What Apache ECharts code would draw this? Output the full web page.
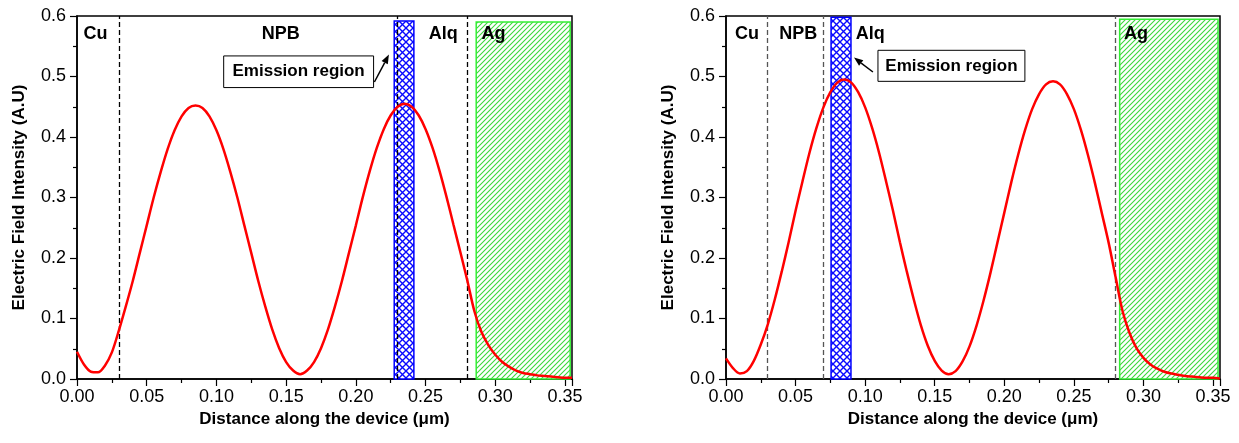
<!DOCTYPE html>
<html>
<head>
<meta charset="utf-8">
<script src="https://cdn.jsdelivr.net/npm/echarts@6/dist/echarts.min.js"></script>
<style>
    html, body {margin: 0; padding: 0; background: #fff;}
    #chart {width: 1239px; height: 443px;}
</style>
</head>
<body>
<div id="chart"></div>
<script>
// distance along the device (um)
const xs = [0.000, 0.005, 0.010, 0.015, 0.020, 0.025, 0.030, 0.035, 0.040, 0.045,
    0.050, 0.055, 0.060, 0.065, 0.070, 0.075, 0.080, 0.085, 0.090, 0.095,
    0.100, 0.105, 0.110, 0.115, 0.120, 0.125, 0.130, 0.135, 0.140, 0.145,
    0.150, 0.155, 0.160, 0.165, 0.170, 0.175, 0.180, 0.185, 0.190, 0.195,
    0.200, 0.205, 0.210, 0.215, 0.220, 0.225, 0.230, 0.235, 0.240, 0.245,
    0.250, 0.255, 0.260, 0.265, 0.270, 0.275, 0.280, 0.285, 0.290, 0.295,
    0.300, 0.305, 0.310, 0.315, 0.320, 0.325, 0.330, 0.335, 0.340, 0.345,
    0.350, 0.355];

// electric field intensity, left device
const leftField = [0.045, 0.024, 0.012, 0.011, 0.022, 0.044, 0.080, 0.120, 0.162, 0.208,
    0.254, 0.300, 0.342, 0.380, 0.411, 0.434, 0.448, 0.452, 0.448, 0.434,
    0.411, 0.380, 0.342, 0.300, 0.254, 0.208, 0.162, 0.120, 0.082, 0.051,
    0.028, 0.014, 0.008, 0.014, 0.028, 0.051, 0.082, 0.120, 0.162, 0.208,
    0.254, 0.301, 0.344, 0.382, 0.413, 0.436, 0.450, 0.455, 0.450, 0.436,
    0.413, 0.382, 0.344, 0.301, 0.255, 0.209, 0.162, 0.112, 0.078, 0.056,
    0.040, 0.028, 0.020, 0.014, 0.010, 0.008, 0.006, 0.005, 0.004, 0.003,
    0.002, 0.002];

// electric field intensity, right device
const rightField = [0.034, 0.018, 0.009, 0.013, 0.030, 0.057, 0.090, 0.131, 0.177, 0.226,
    0.278, 0.327, 0.374, 0.415, 0.449, 0.474, 0.490, 0.495, 0.490, 0.474,
    0.449, 0.415, 0.374, 0.327, 0.278, 0.226, 0.177, 0.131, 0.089, 0.055,
    0.030, 0.014, 0.008, 0.013, 0.029, 0.054, 0.088, 0.129, 0.175, 0.225,
    0.275, 0.325, 0.371, 0.412, 0.446, 0.471, 0.487, 0.492, 0.487, 0.471,
    0.446, 0.412, 0.371, 0.325, 0.275, 0.225, 0.168, 0.112, 0.076, 0.051,
    0.035, 0.024, 0.017, 0.012, 0.009, 0.007, 0.005, 0.004, 0.003, 0.002,
    0.002, 0.001];

// layer boundaries (dashed lines)
const leftBounds = [0.0277, 0.2261, 0.2846];
const rightBounds = [0.0275, 0.0748, 0.2817];

// emission region and Ag layer: [from, to, top]
const leftEmission = [0.2275, 0.2416, 0.5917];
const leftAg = [0.2863, 0.3537, 0.590];
const rightEmission = [0.0755, 0.0898, 0.598];
const rightAg = [0.2829, 0.3536, 0.5946];

const layerNames = ['Cu', 'NPB', 'Alq', 'Ag'];
const leftLayerX = [0.0132, 0.1462, 0.2627, 0.2987];
const rightLayerX = [0.0151, 0.0520, 0.1036, 0.2946];

const FONT = '"Liberation Sans", Arial, sans-serif';
const labelY = 0.570;
// callout box [x0, yTop, x1, yBottom] and arrow [fromX, fromY, toX, toY]
const leftCallout = [0.1052, 0.534, 0.2127, 0.4817, 0.2133, 0.4909, 0.2237, 0.5362];
const rightCallout = [0.1092, 0.5433, 0.2148, 0.492, 0.1056, 0.5074, 0.0920, 0.5312];

function makePattern(kind) {
    const c = document.createElement('canvas');
    const s = kind === 0 ? 7 : 5;
    c.width = s;
    c.height = s;
    const ctx = c.getContext('2d');
    ctx.fillStyle = '#fff';
    ctx.fillRect(0, 0, s, s);
    if (kind === 0) {
        ctx.lineWidth = 1.4;
        ctx.strokeStyle = '#0a0aff';
        ctx.beginPath();
        ctx.moveTo(0, 0); ctx.lineTo(s, s);
        ctx.moveTo(s, 0); ctx.lineTo(0, s);
        ctx.stroke();
    } else {
        ctx.lineWidth = 1.1;
        ctx.strokeStyle = '#3cd83c';
        ctx.beginPath();
        ctx.moveTo(0, s); ctx.lineTo(s, 0);
        ctx.moveTo(-1, 1); ctx.lineTo(1, -1);
        ctx.moveTo(s - 1, s + 1); ctx.lineTo(s + 1, s - 1);
        ctx.stroke();
    }
    return {image: c, repeat: 'repeat'};
}

const patterns = [makePattern(0), makePattern(1)];
const bandStroke = ['#0000ff', '#33ee33'];

function renderBand(params, api) {
    const kind = api.value(3);
    const p0 = api.coord([api.value(0), 0]);
    const p1 = api.coord([api.value(1), api.value(2)]);
    return {
        type: 'rect',
        shape: {x: p0[0], y: p1[1], width: p1[0] - p0[0], height: p0[1] - p1[1]},
        style: {fill: patterns[kind], stroke: bandStroke[kind], lineWidth: 1.5}
    };
}

function renderLayerName(params, api) {
    const p = api.coord([api.value(0), api.value(1)]);
    return {
        type: 'text',
        style: {
            text: layerNames[params.dataIndex], x: p[0], y: p[1],
            align: 'center', verticalAlign: 'middle',
            fontSize: 18, fontWeight: 'bold', fontFamily: FONT, fill: '#000'
        }
    };
}

function renderCallout(params, api) {
    const a = api.coord([api.value(0), api.value(1)]);
    const b = api.coord([api.value(2), api.value(3)]);
    const t = api.coord([api.value(4), api.value(5)]);
    const h = api.coord([api.value(6), api.value(7)]);
    const dx = h[0] - t[0], dy = h[1] - t[1];
    const len = Math.sqrt(dx * dx + dy * dy);
    const ux = dx / len, uy = dy / len;
    const hl = 9, hw = 3.5;
    const bx = h[0] - ux * hl, by = h[1] - uy * hl;
    return {
        type: 'group',
        children: [
            {type: 'rect', shape: {x: a[0], y: a[1], width: b[0] - a[0], height: b[1] - a[1]},
                style: {fill: '#fff', stroke: '#000', lineWidth: 1}},
            {type: 'text', style: {text: 'Emission region', x: (a[0] + b[0]) / 2, y: (a[1] + b[1]) / 2,
                align: 'center', verticalAlign: 'middle', fontSize: 17, fontWeight: 'bold', fontFamily: FONT, fill: '#000'}},
            {type: 'line', shape: {x1: t[0], y1: t[1], x2: bx, y2: by}, style: {stroke: '#000', lineWidth: 1.5}},
            {type: 'polygon', shape: {points: [h, [bx - uy * hw, by + ux * hw], [bx + uy * hw, by - ux * hw]]},
                style: {fill: '#000'}}
        ]
    };
}

function xAxisFor(i) {
    return {
        type: 'value', gridIndex: i, min: 0, max: 0.355, interval: 0.05,
        name: 'Distance along the device (μm)', nameLocation: 'middle', nameGap: 24,
        nameTextStyle: {fontSize: 17, fontWeight: 'bold', color: '#000', fontFamily: FONT},
        axisLine: {lineStyle: {color: '#000', width: 1.5}},
        axisTick: {length: 7, lineStyle: {color: '#000', width: 1.2}},
        minorTick: {show: true, splitNumber: 2, length: 4, lineStyle: {color: '#000', width: 1.2}},
        axisLabel: {fontSize: 18, color: '#000', fontFamily: FONT, margin: 9, showMaxLabel: false,
            formatter: v => v.toFixed(2)},
        splitLine: {show: false}
    };
}

function yAxisFor(i) {
    return {
        type: 'value', gridIndex: i, min: 0, max: 0.6, interval: 0.1,
        name: 'Electric Field Intensity (A.U)', nameLocation: 'middle', nameGap: 49,
        nameTextStyle: {fontSize: 17, fontWeight: 'bold', color: '#000', fontFamily: FONT},
        axisLine: {lineStyle: {color: '#000', width: 1.5}},
        axisTick: {length: 7, lineStyle: {color: '#000', width: 1.2}},
        minorTick: {show: true, splitNumber: 2, length: 4, lineStyle: {color: '#000', width: 1.2}},
        axisLabel: {fontSize: 18, color: '#000', fontFamily: FONT, margin: 11,
            formatter: v => v.toFixed(1)},
        splitLine: {show: false}
    };
}

function panelSeries(i, field, bounds, emission, ag, layerX, callout, dashColor) {
    return [
        {
            type: 'custom', xAxisIndex: i, yAxisIndex: i, z: 2, silent: true,
            renderItem: renderBand,
            data: [emission.concat([0]), ag.concat([1])]
        },
        {
            type: 'line', xAxisIndex: i, yAxisIndex: i, z: 5,
            data: xs.map((x, j) => [x, field[j]]),
            showSymbol: false, smooth: 0.3, silent: true,
            lineStyle: {color: '#ff0000', width: 2.5},
            markLine: {
                silent: true, symbol: ['none', 'none'], label: {show: false},
                lineStyle: {color: dashColor, width: 1.3, type: [5, 3]},
                data: bounds.map(b => ({xAxis: b}))
            }
        },
        {
            type: 'custom', xAxisIndex: i, yAxisIndex: i, z: 6, silent: true,
            renderItem: renderLayerName,
            data: layerX.map(x => [x, labelY])
        },
        {
            type: 'custom', xAxisIndex: i, yAxisIndex: i, z: 7, silent: true,
            renderItem: renderCallout,
            data: [callout]
        }
    ];
}

const chart = echarts.init(document.getElementById('chart'));
chart.setOption({
    animation: false,
    backgroundColor: '#fff',
    grid: [
        {left: 77, top: 16, width: 495, height: 363, show: true, borderColor: '#000', borderWidth: 1.5},
        {left: 726, top: 16, width: 494, height: 363, show: true, borderColor: '#000', borderWidth: 1.5}
    ],
    xAxis: [xAxisFor(0), xAxisFor(1)],
    yAxis: [yAxisFor(0), yAxisFor(1)],
    series: panelSeries(0, leftField, leftBounds, leftEmission, leftAg, leftLayerX, leftCallout, '#000')
        .concat(panelSeries(1, rightField, rightBounds, rightEmission, rightAg, rightLayerX, rightCallout, '#555'))
});
</script>
</body>
</html>
